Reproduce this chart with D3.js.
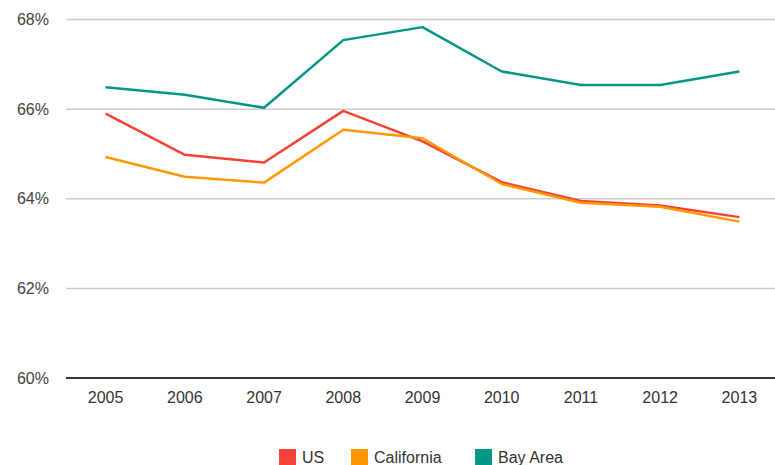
<!DOCTYPE html>
<html><head><meta charset="utf-8">
<script src="https://cdn.jsdelivr.net/npm/d3@7"></script>
<style>body{margin:0;background:#fff}svg{display:block;font-family:"Liberation Sans",Arial,sans-serif}</style>
</head><body><svg id="c" width="775" height="465"></svg>
<script>
const years = ["2005","2006","2007","2008","2009","2010","2011","2012","2013"];
const us = [65.90, 64.98, 64.81, 65.96, 65.28, 64.37, 63.95, 63.85, 63.59];
const california = [64.93, 64.49, 64.36, 65.54, 65.35, 64.33, 63.91, 63.82, 63.49];
const bayArea = [66.49, 66.32, 66.03, 67.54, 67.83, 66.84, 66.54, 66.54, 66.84];
const yTicks = [60, 62, 64, 66, 68];
const seriesNames = ["US", "California", "Bay Area"];
const seriesColors = ["#F44336", "#FF9800", "#009688"];

const svg = d3.select("#c");
const x = d3.scaleBand().domain(years).range([66, 779]);
const y = d3.scaleLinear().domain([60, 68]).range([378, 19.5]);

// gridlines
svg.append("g").selectAll("line").data(yTicks.filter(t => t > 60)).join("line")
  .attr("x1", 66).attr("x2", 775).attr("y1", d => y(d)).attr("y2", d => y(d))
  .attr("stroke", "#cccccc").attr("stroke-width", 1.5);

// y labels
svg.append("g").selectAll("text").data(yTicks).join("text")
  .attr("x", 49).attr("y", d => y(d)).attr("dy", "0.35em")
  .attr("text-anchor", "end").attr("font-size", 16).attr("fill", "#444")
  .text(d => d + "%");

// x labels
svg.append("g").selectAll("text").data(years).join("text")
  .attr("x", d => x(d) + x.bandwidth() / 2).attr("y", 397).attr("dy", "0.35em")
  .attr("text-anchor", "middle").attr("font-size", 16).attr("fill", "#333")
  .text(d => d);

const all = [us, california, bayArea];
const line = d3.line().x((d, i) => x(years[i]) + x.bandwidth() / 2).y(d => y(d));
all.forEach((s, k) => {
  svg.append("path").datum(s).attr("d", line).attr("fill", "none")
    .attr("stroke", seriesColors[k]).attr("stroke-width", 2.5).attr("stroke-linejoin", "round");
});

// baseline
svg.append("line").attr("x1", 66).attr("x2", 775).attr("y1", y(60)).attr("y2", y(60))
  .attr("stroke", "#333").attr("stroke-width", 2);

// legend
const legX = [279, 351, 475];
const leg = svg.append("g");
seriesNames.forEach((n, k) => {
  leg.append("rect").attr("x", legX[k]).attr("y", 449).attr("width", 17).attr("height", 16)
    .attr("fill", seriesColors[k]);
  leg.append("text").attr("x", legX[k] + 23).attr("y", 463).attr("font-size", 16)
    .attr("fill", "#333").text(n);
});
</script></body></html>
